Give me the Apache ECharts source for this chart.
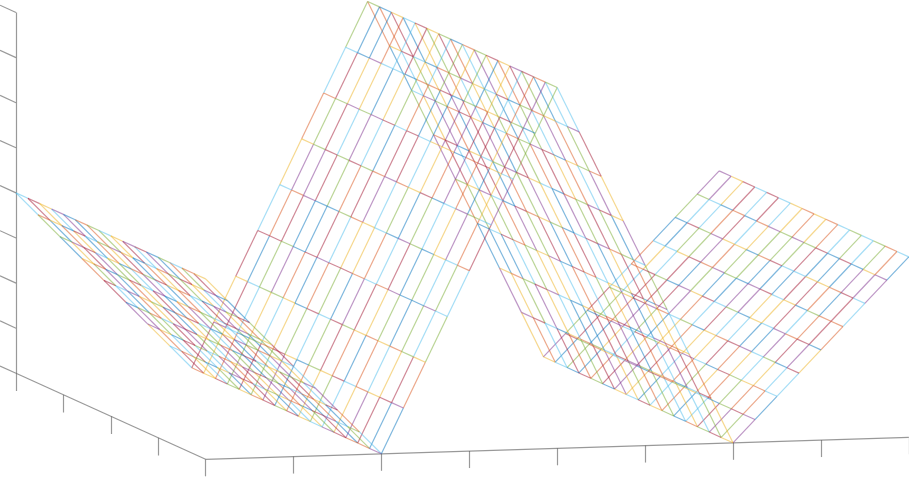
<!DOCTYPE html>
<html>
<head>
<meta charset="utf-8">
<style>html,body{margin:0;padding:0;background:#fff}#main{width:909px;height:478px}</style>
<script src="https://cdn.jsdelivr.net/npm/echarts@6/dist/echarts.min.js"></script>
</head>
<body>
<div id="main"></div>
<script>
// surface samples
const xValues = [0,0.25,0.5,0.75,1,1.25,1.5,1.75,2,2.25,2.5,2.75,3,3.25,3.5,3.75,4,4.25,4.5,4.75,5,5.25,5.5,5.75,6,6.25,6.5,6.75,7,7.25,7.5,7.75,8]
const yValues = [0,0.25,0.5,0.75,1,1.25,1.5,1.75,2,2.25,2.5,2.75,3,3.25,3.5,3.75,4]
const zValues = [4,3.5,3,2.5,2,1.5,1,0.5,0,1,2,3,4,5,6,7,8,7,6,5,4,3,2,1,0,0.5,1,1.5,2,2.5,3,3.5,4]
const xTicks = [0,1,2,3,4,5,6,7,8]
const yTicks = [0,1,2,3,4]
const zTicks = [0,1,2,3,4,5,6,7,8]

const palette = {b:'#0072BD',o:'#D95319',y:'#EDB120',p:'#7E2F8E',g:'#77AC30',c:'#4DBEEE',r:'#A2142F'}

// edge colours of each line running along x, one row per y value
const xLineColors = [
  'cgbo rpyc  ryrc yocg  obgp obpy  pgrc obgp',
  'rbyg cpor  yrbo pgrb  ocyr gbyo  brgc ybcp',
  'yorp bgcy  ocgr pryb  rgpc ybgc  gbor cgcy',
  'cypb ogrc  gypb rcyo  byor gcpr  bypr rgor',
  'pbgo yrcg  rcob gpbc  ypbr ogyo  ocgr bprc',
  'bogy rpcb  gybr ocyr  gorb pycg  rybp gocr',
  'oycr bgpy  pgoc rbgy  rcpo gybr  pryo bgyc',
  'grpb ycor  bcgy proc  oybg rcbp  yroc bggy',
  'ybco gpry  ogby crbg  cgrp bory  bcyr pbgo',
  'robp cgyb  yrpo gcby  pbgy ocrg  coyc pbgy',
  'cyog rbpc  gorc bypg  ycob rgpo  ogrc ybro',
  'prcy bgoy  cbyr gopb  ogrp cybg  byob yrbc',
  'bgrc oypg  yogb cpry  rcyg bpoc  coyb rrbg',
  'oypg crbr  pcbg yorc  gpor ybcy  rgcp cobc',
  'gcyb prob  rygc pbyo  bocg rypc  poyr obpg',
  'rpog ycbg  brcg oyrp  cgpb oyrg  gocp rrpo',
  'ybgr cpoc  bogc rpgg  cryp gcoy  pbcy ocpb'
].map(s => s.replace(/ /g, ''))

// edge colours of each line running along y, one row per x value
const yLineColors = [
  'cryp bogc yprb gcoy',
  'oybr cgpy bcog rypb',
  'gprc ybog ryoc bpgr',
  'yobg rcpb yogc rpgy',
  'rcpy gbor cbyp goyc',
  'bgoc pryg obrc yggp',
  'pybr gcoy prgb coyr',
  'cogb yprc gyob rpcg',
  'oyrg yorg rycp roop',
  'pcbg oryb gyrc oyrp',
  'ycgg ybrc rgyo yogy',
  'rrgb rprr ocop bbpc',
  'copb bgoy cbpg byco',
  'ygrg rgop oyrb cpgc',
  'ogpg prcr cyyb oryc',
  'cbpc cboo rbgo yrgb',
  'gbyc rygb ogry prog',
  'yrcb ogpy crbg oycp',
  'cpgo rybc ogpr bygo',
  'orby cgpr ycbo gpry',
  'gypc broy gbcr pogc',
  'bcro gypb rocy grbp',
  'yogr pcby gorb cpoy',
  'prcb yogc rpgy obcr',
  'ycbr gbyc rygb ogry',
  'rgoy cpbr ogyc bgrp',
  'bopc rgyo pcbr gyoc',
  'gyrp ocgb yorp cgbr',
  'orgb pyrc gbyc porb',
  'ccyr opgb prcy bgoo',
  'brgp yybo rccy yorc',
  'gcbo bopg pgrb rbyp',
  'pyrc rcyo yocg cgoc'
].map(s => s.replace(/ /g, ''))

// fixed orthographic view
const origin = [16, 373.3]
const ex = [87.9, -2.75]
const ey = [47.4, 21.5]
const ez = [0, -45.1]
const project = (x, y, z) => [
  origin[0] + x * ex[0] + y * ey[0] + z * ez[0],
  origin[1] + x * ex[1] + y * ey[1] + z * ez[1]
]

let edges = []
yValues.forEach((y, j) => {
  for (let i = 0; i < xValues.length - 1; i++) {
    edges.push({
      coords: [project(xValues[i], y, zValues[i]), project(xValues[i + 1], y, zValues[i + 1])],
      lineStyle: {color: palette[xLineColors[j][i]]}
    })
  }
})
xValues.forEach((x, i) => {
  for (let j = 0; j < yValues.length - 1; j++) {
    edges.push({
      coords: [project(x, yValues[j], zValues[i]), project(x, yValues[j + 1], zValues[i])],
      lineStyle: {color: palette[yLineColors[i][j]]}
    })
  }
})

let axisLines = []
const seg = (a, b) => axisLines.push({coords: [a, b]})
seg(project(0, 0, 0), project(0, 0, 8))
seg(project(0, 0, 0), project(0, 4, 0))
seg(project(0, 4, 0), project(8, 4, 0))
xTicks.forEach(t => { let p = project(t, 4, 0); seg(p, [p[0], p[1] + 17]) })
yTicks.slice(0, 4).forEach(t => { let p = project(0, t, 0); seg(p, [p[0], p[1] + 17.7]) })
zTicks.forEach(t => { let p = project(0, 0, t); seg(p, [p[0] - 16, p[1] - 7.3]) })

let chart = echarts.init(document.getElementById('main'), null, {renderer: 'canvas'})
chart.setOption({
  animation: false,
  grid: {left: 0, right: 0, top: 0, bottom: 0},
  xAxis: {type: 'value', min: 0, max: 909, show: false},
  yAxis: {type: 'value', min: 0, max: 478, inverse: true, show: false},
  series: [
    {type: 'lines', coordinateSystem: 'cartesian2d', silent: true, data: axisLines, lineStyle: {color: '#555', width: 1.2, opacity: 0.6, curveness: 0}},
    {type: 'lines', coordinateSystem: 'cartesian2d', silent: true, data: edges, lineStyle: {width: 1.2, opacity: 0.5, curveness: 0}}
  ]
})
</script>
</body>
</html>
